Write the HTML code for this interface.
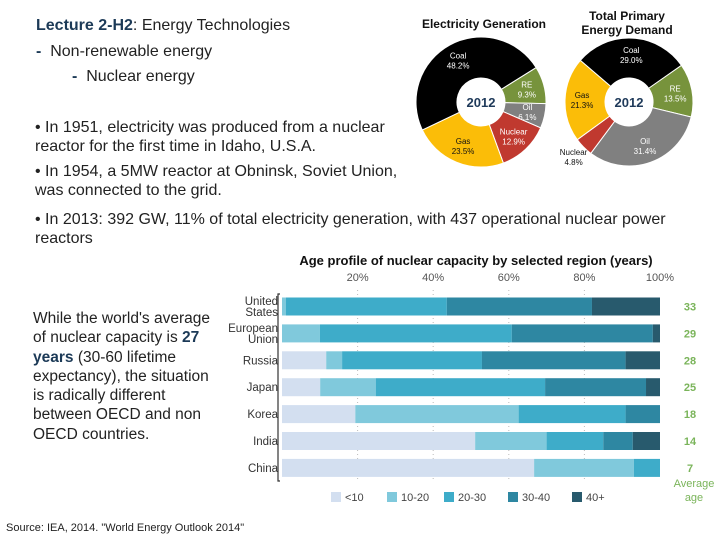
<!DOCTYPE html>
<html><head><meta charset="utf-8"><style>
body{margin:0;background:#fff;width:720px;height:540px;overflow:hidden;position:relative;font-family:"Liberation Sans",Arial,sans-serif;color:#222}
.t{position:absolute;white-space:nowrap}
b.n{color:#1c3a57}
</style></head><body>
<div class="t" style="left:36px;top:17px;font-size:16px"><b class="n">Lecture 2-H2</b>: Energy Technologies</div>
<div class="t" style="left:36px;top:43px;font-size:16px"><b class="n">-</b>&nbsp; Non-renewable energy</div>
<div class="t" style="left:72px;top:68px;font-size:16px"><b class="n">-</b>&nbsp; Nuclear energy</div>
<div class="t" style="left:35px;top:118px;font-size:16px;line-height:19px">• In 1951, electricity was produced from a nuclear<br>reactor for the first time in Idaho, U.S.A.</div>
<div class="t" style="left:35px;top:162px;font-size:16px;line-height:19px">• In 1954, a 5MW reactor at Obninsk, Soviet Union,<br>was connected to the grid.</div>
<div class="t" style="left:35px;top:210px;font-size:16px;line-height:19px">• In 2013: 392 GW, 11% of total electricity generation, with 437 operational nuclear power<br>reactors</div>
<div class="t" style="left:33px;top:309px;font-size:15.5px;line-height:19.3px">While the world's average<br>of nuclear capacity is <b class="n">27</b><br><b class="n">years</b> (30-60 lifetime<br>expectancy), the situation<br>is radically different<br>between OECD and non<br>OECD countries.</div>
<div class="t" style="left:6px;top:522px;font-size:11px">Source: IEA, 2014. "World Energy Outlook 2014"</div>

<svg id="pies" width="720" height="540" style="position:absolute;left:0;top:0">
<text x="484" y="28" font-size="12" font-weight="bold" text-anchor="middle" fill="#111">Electricity Generation</text>
<text x="627" y="20" font-size="12" font-weight="bold" text-anchor="middle" fill="#111">Total Primary</text>
<text x="627" y="34" font-size="12" font-weight="bold" text-anchor="middle" fill="#111">Energy Demand</text>
</svg>
<svg id="bars" width="720" height="540" style="position:absolute;left:0;top:0">
<text x="476" y="265" font-size="13" font-weight="bold" text-anchor="middle" fill="#111">Age profile of nuclear capacity by selected region (years)</text>
</svg>
<script>
const NS="http://www.w3.org/2000/svg";
function mk(p,t,a){const e=document.createElementNS(NS,t);for(const k in a)e.setAttribute(k,a[k]);p.appendChild(e);return e;}
// Pie data
const elecLabels=["RE","Oil","Nuclear","Gas","Coal"];
const elecValues=[9.3,6.1,12.9,23.5,48.2];
const demLabels=["RE","Oil","Nuclear","Gas","Coal"];
const demValues=[13.5,31.4,4.8,21.3,29.0];
const pieColors={RE:"#77933c",Oil:"#808080",Nuclear:"#c0392f",Gas:"#fbbd08",Coal:"#000000"};
// Bar data
const regions=["United States","European Union","Russia","Japan","Korea","India","China"];
const ageBands=["<10","10-20","20-30","30-40","40+"];
const s_lt10=[0,0,11.7,10.1,19.4,51.1,66.7];
const s_10_20=[1,10,4.2,14.7,43.2,18.9,26.4];
const s_20_30=[42.6,50.8,37,44.8,28.3,15,6.9];
const s_30_40=[38.4,37.3,38,26.7,9.1,7.8,0];
const s_40p=[18,1.9,9.1,3.7,0,7.2,0];
const avgAge=[33,29,28,25,18,14,7];
const xTicks=[20,40,60,80,100];

const pies=document.getElementById('pies');
function pie(labels,vals,cx,cy,r,ri,start,prefix){
  const tot=vals.reduce((a,b)=>a+b,0);let a=start;
  labels.forEach((l,i)=>{
    const sw=vals[i]/tot*360,a0=(a-90)*Math.PI/180,a1=(a+sw-90)*Math.PI/180;
    const lg=sw>180?1:0;
    const d=`M${cx+ri*Math.cos(a0)},${cy+ri*Math.sin(a0)} L${cx+r*Math.cos(a0)},${cy+r*Math.sin(a0)} A${r},${r} 0 ${lg} 1 ${cx+r*Math.cos(a1)},${cy+r*Math.sin(a1)} L${cx+ri*Math.cos(a1)},${cy+ri*Math.sin(a1)} A${ri},${ri} 0 ${lg} 0 ${cx+ri*Math.cos(a0)},${cy+ri*Math.sin(a0)} Z`;
    const p=mk(pies,'path',{d:d,fill:pieColors[l],stroke:'#fff','stroke-width':1});
    
    
    const m=(a+sw/2-90)*Math.PI/180;let rr=(r+ri)/2+3;
    if(sw<20&&l==="Nuclear"&&prefix==="demand")rr=r+14;
    const lx=cx+rr*Math.cos(m),ly=cy+rr*Math.sin(m);
    const col=(l==="Gas"||(prefix==="demand"&&l==="Nuclear"&&rr>r))?"#111":"#fff";
    const t1=mk(pies,'text',{x:lx,y:ly-2,'font-size':8,'text-anchor':'middle',fill:col});
    t1.textContent=l;
    
    
    const t2=mk(pies,'text',{x:lx,y:ly+8,'font-size':8,'text-anchor':'middle',fill:col});
    t2.textContent=vals[i].toFixed(1)+"%";
    
    
    a+=sw;
  });
  const c=mk(pies,'text',{x:cx,y:cy+5,'font-size':13,'font-weight':'bold','text-anchor':'middle',fill:'#1f3a5a'});
  c.textContent="2012";
  
  
}
pie(elecLabels,elecValues,481,102,65,24,58,'electricity');
pie(demLabels,demValues,629,102,64,24,55,'demand');

const bars=document.getElementById('bars');
const X0=282,X1=660,Y0=306.5,DY=26.9,BH=18;
const xs=v=>X0+(X1-X0)*v/100;
const ys=i=>Y0+i*DY;
const bandColors=["#d3dff0","#80c9dc","#3eacc9","#2e87a2","#285a6d"];
const series=[s_lt10,s_10_20,s_20_30,s_30_40,s_40p];
xTicks.forEach(t=>{
  const tx=mk(bars,'text',{x:xs(t),y:281,'font-size':11,'text-anchor':'middle',fill:'#555'});
  tx.textContent=t+"%";
  
  
  if(t<100){const g=mk(bars,'line',{x1:xs(t),x2:xs(t),y1:290,y2:480,stroke:'#bbb','stroke-dasharray':'1,3'});
  
  }
});
const ax=mk(bars,'path',{d:`M${X0-2},294 h-2 V481 h2`,stroke:'#333',fill:'none','stroke-width':1.2});


regions.forEach((r,i)=>{
  let acc=0;
  series.forEach((s,k)=>{
    if(s[i]>0){const rc=mk(bars,'rect',{x:xs(acc),y:ys(i)-BH/2,width:xs(acc+s[i])-xs(acc),height:BH,fill:bandColors[k]});
    
    }
    acc+=s[i];
  });
  const parts=r.split(' ');
  parts.forEach((p,j)=>{
    const tt=mk(bars,'text',{x:278,y:ys(i)+4+(parts.length>1?(j-0.5)*11:0),'font-size':11.5,'text-anchor':'end',fill:'#333'});
    tt.textContent=p;
    
    
  });
  const ag=mk(bars,'text',{x:690,y:ys(i)+4,'font-size':11,'font-weight':'bold','text-anchor':'middle',fill:'#7ab45a'});
  ag.textContent=avgAge[i];
  
  
});
[["Average",487],["age",501]].forEach(a=>{
  const t=mk(bars,'text',{x:694,y:a[1],'font-size':11,'text-anchor':'middle',fill:'#7ab45a'});
  t.textContent=a[0];
  
  
});
const legX=[331,387,444,508,572];
ageBands.forEach((b,k)=>{
  const sq=mk(bars,'rect',{x:legX[k],y:492,width:10,height:10,fill:bandColors[k]});
  
  
  const t=mk(bars,'text',{x:legX[k]+14,y:501,'font-size':11,fill:'#444'});
  t.textContent=b;
  
  
});
</script>
</body></html>
